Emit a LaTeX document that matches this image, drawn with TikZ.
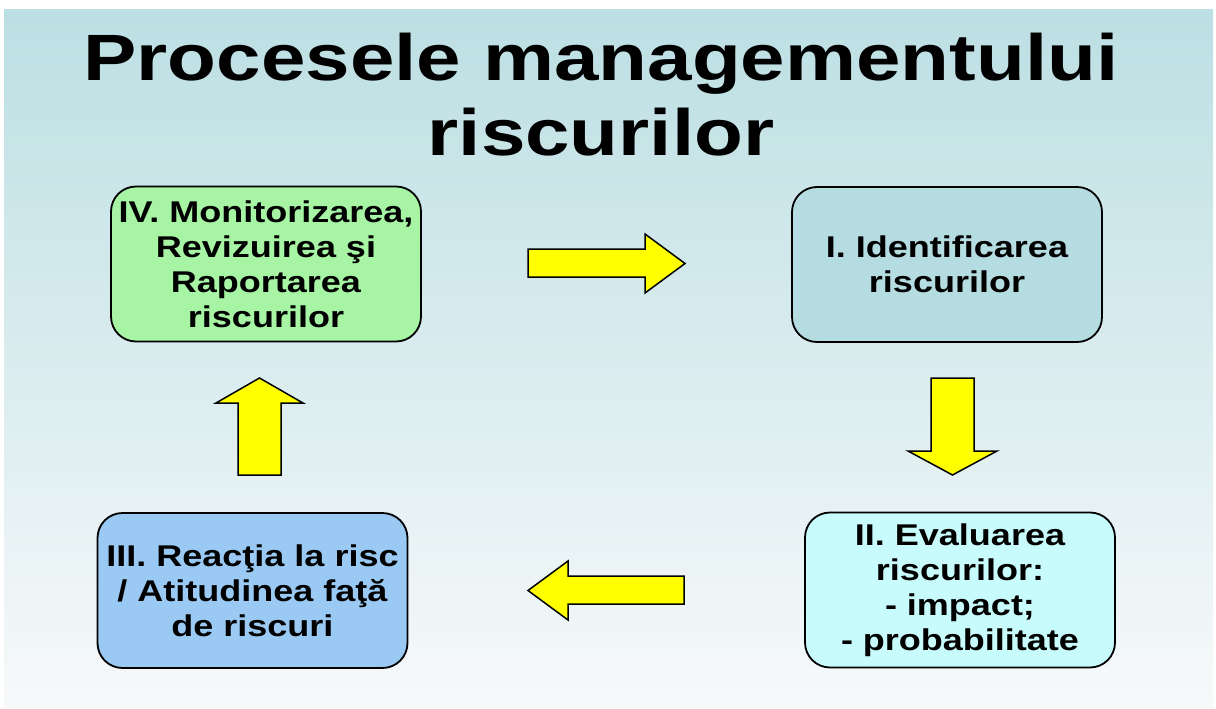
\documentclass[tikz,border=0pt]{standalone}
\usepackage{fontspec}
\setmainfont{Liberation Sans}[FakeStretch=1.2]
\newfontfamily\titlefont{Liberation Sans}[FakeStretch=1.22]
\definecolor{bgtop}{HTML}{BCDFE3}
\definecolor{bgmid}{HTML}{D9EBEF}
\definecolor{bgbot}{HTML}{F7F9FA}
\definecolor{boxgreen}{HTML}{A6F4A4}
\definecolor{boxteal}{HTML}{B5DDE1}
\definecolor{boxblue}{HTML}{9AC9F4}
\definecolor{boxcyan}{HTML}{C8FBFB}
\definecolor{arrowyellow}{HTML}{FFFF00}
\tikzset{
  stepbox/.style={draw=black, line width=1.8pt, rounded corners=25pt,
    minimum width=310pt, minimum height=155pt, align=center, inner sep=0pt,
    font=\fontsize{30}{35}\selectfont\bfseries},
  blockarrow/.style={draw=black, fill=arrowyellow, line width=1.5pt, line join=miter},
  titletext/.style={anchor=base, inner sep=0pt, font=\titlefont\fontsize{65.5}{76}\selectfont\bfseries}
}
\begin{document}
\begin{tikzpicture}[x=1pt,y=-1pt]
\useasboundingbox (0,0) rectangle (1216,709);
\fill[white] (0,0) rectangle (1216,709);
\shade[top color=bgtop, middle color=bgmid, bottom color=bgbot] (4,10) rectangle (1213,707);
% title
\node[titletext] (t1) at (601,81) {Procesele managementului};
\node[titletext] (t2) at (601,155) {riscurilor};
% boxes
\node[stepbox, fill=boxgreen] (mon) at (266,264) {IV. Monitorizarea,\\Revizuirea şi\\Raportarea\\riscurilor};
\node[stepbox, fill=boxteal] (ident) at (947,264.5) {I. Identificarea\\riscurilor};
\node[stepbox, fill=boxcyan] (eval) at (960,590) {\raisebox{-3pt}{}II. Evaluarea\\riscurilor:\\- impact;\\- probabilitate};
\node[stepbox, fill=boxblue] (react) at (252.5,590.5) {III. Reacţia la risc\\/ Atitudinea faţă\\de riscuri};
% block arrows
\draw[blockarrow] (528,249) -- (645,249) -- (645,234) -- (685,263.5) -- (645,293) -- (645,277) -- (528,277) -- cycle;
\draw[blockarrow] (931,378) -- (974,378) -- (974,451) -- (997,451) -- (952.5,475) -- (908,451) -- (931,451) -- cycle;
\draw[blockarrow] (684,576) -- (568,576) -- (568,561) -- (528,590.5) -- (568,620) -- (568,604) -- (684,604) -- cycle;
\draw[blockarrow] (238,475) -- (238,403) -- (216,403) -- (259.5,378) -- (303,403) -- (281,403) -- (281,475) -- cycle;
\end{tikzpicture}
\end{document}
